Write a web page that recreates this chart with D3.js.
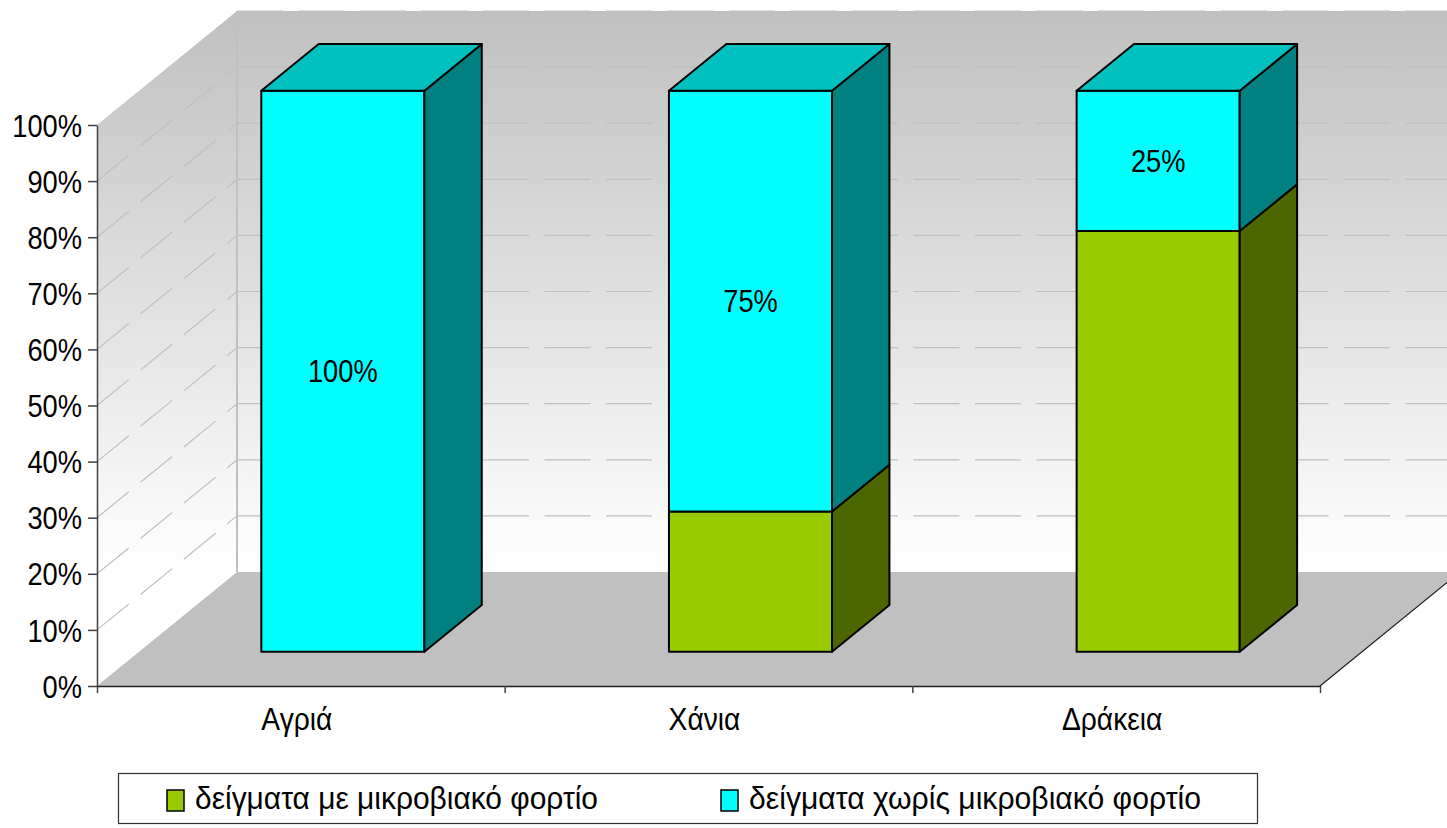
<!DOCTYPE html>
<html>
<head>
<meta charset="utf-8">
<script src="https://cdn.jsdelivr.net/npm/d3@7"></script>
<style>
    html, body { margin: 0; padding: 0; background: #fff; }
    svg { display: block; font-family: "Liberation Sans", Arial, sans-serif; }
</style>
</head>
<body>
<svg id="chart" width="1447" height="828"></svg>
<script>
// data
const categories = ['Αγριά', 'Χάνια', 'Δράκεια'];
const with_load = [0, 25, 75];
const without_load = [100, 75, 25];
const series_names = ['δείγματα με μικροβιακό φορτίο', 'δείγματα χωρίς μικροβιακό φορτίο'];
const y_ticks = [0, 10, 20, 30, 40, 50, 60, 70, 80, 90, 100];

// look
const front_colors = ['#99cc00', '#00ffff'];
const side_colors = ['#4c6600', '#008080'];
const top_colors = ['#7aa300', '#00c0c0'];

const font_size = 31;
const squash = 0.88;          // text in the picture is a bit narrow
const name_squash = 0.91;
const legend_widths = [403, 452];
const depth_x = 140, depth_y = 114;
const bar_z0 = 0.3, bar_z1 = 0.71;

const svg = d3.select('#chart');

const x = d3.scaleBand().domain(categories).range([97, 1320]).paddingInner(0.6).paddingOuter(0.3);
const edges = d3.scaleLinear().domain([0, categories.length]).range([97, 1320]);
const y = d3.scaleLinear().domain([0, 100]).range([686, 125]);

// project (screen x, value, depth 0..1) to a screen point
const P = (px, v, z) => [px + z * depth_x, y(v) - z * depth_y];
const poly = pts => pts.map(p => p.join(',')).join(' ');

const defs = svg.append('defs');
const grad = defs.append('linearGradient').attr('id', 'wall')
    .attr('gradientUnits', 'userSpaceOnUse')
    .attr('x1', 0).attr('y1', y(100) - depth_y).attr('x2', 0).attr('y2', y(0) - depth_y);
grad.append('stop').attr('offset', 0).attr('stop-color', '#c0c0c0');
grad.append('stop').attr('offset', 1).attr('stop-color', '#ffffff');

const x_left = edges.range()[0], x_right = edges.range()[1];

// walls and floor
svg.append('polygon').attr('fill', 'url(#wall)')
    .attr('points', poly([P(x_left, 0, 1), P(x_left, 100, 1), P(x_right, 100, 1), P(x_right, 0, 1)]));
svg.append('polygon').attr('fill', 'url(#wall)')
    .attr('points', poly([P(x_left, 0, 0), P(x_left, 100, 0), P(x_left, 100, 1), P(x_left, 0, 1)]));
svg.append('polygon').attr('fill', '#c0c0c0')
    .attr('points', poly([P(x_left, 0, 0), P(x_right, 0, 0), P(x_right, 0, 1), P(x_left, 0, 1)]));

// grid on the back wall and the side wall
const grid = svg.append('g').attr('stroke', '#c0c0c0').attr('stroke-width', 1.2).attr('fill', 'none');
grid.selectAll('line.back').data(y_ticks.filter(d => d > 0)).join('line').attr('class', 'back')
    .attr('x1', d => P(x_left, d, 1)[0]).attr('y1', d => P(x_left, d, 1)[1])
    .attr('x2', d => P(x_right, d, 1)[0]).attr('y2', d => P(x_right, d, 1)[1])
    .attr('stroke-dasharray', '46,15.5');
grid.selectAll('line.side').data(y_ticks.filter(d => d > 0 && d < 100)).join('line').attr('class', 'side')
    .attr('x1', d => P(x_left, d, 0)[0]).attr('y1', d => P(x_left, d, 0)[1])
    .attr('x2', d => P(x_left, d, 1)[0]).attr('y2', d => P(x_left, d, 1)[1])
    .attr('stroke-dasharray', '41,15');
grid.append('line')
    .attr('x1', P(x_left, 0, 1)[0]).attr('y1', P(x_left, 0, 1)[1])
    .attr('x2', P(x_left, 100, 1)[0]).attr('y2', P(x_left, 100, 1)[1])
    .attr('stroke-width', 2);

// right edge of the floor
svg.append('line').attr('stroke', '#202020').attr('stroke-width', 1.2)
    .attr('x1', P(x_right, 0, 0)[0]).attr('y1', P(x_right, 0, 0)[1])
    .attr('x2', P(x_right, 0, 1)[0]).attr('y2', P(x_right, 0, 1)[1]);

// stacked 3d bars
const stack = categories.map((c, i) => {
    const vals = [with_load[i], without_load[i]];
    let base = 0;
    return vals.map((v, s) => {
        const seg = {cat: c, s, v, v0: base, v1: base + v};
        base += v;
        return seg;
    }).filter(d => d.v > 0);
});

const bars = svg.append('g').attr('stroke', '#000').attr('stroke-width', 2).attr('stroke-linejoin', 'round');
stack.forEach(segs => {
    const g = bars.append('g');
    segs.forEach((d, k) => {
        const x0 = x(d.cat), x1 = x0 + x.bandwidth();
        g.append('polygon').attr('fill', front_colors[d.s])
            .attr('points', poly([P(x0, d.v0, bar_z0), P(x1, d.v0, bar_z0), P(x1, d.v1, bar_z0), P(x0, d.v1, bar_z0)]));
        g.append('polygon').attr('fill', side_colors[d.s])
            .attr('points', poly([P(x1, d.v0, bar_z0), P(x1, d.v0, bar_z1), P(x1, d.v1, bar_z1), P(x1, d.v1, bar_z0)]));
        if (k === segs.length - 1) {
            g.append('polygon').attr('fill', top_colors[d.s])
                .attr('points', poly([P(x0, d.v1, bar_z0), P(x1, d.v1, bar_z0), P(x1, d.v1, bar_z1), P(x0, d.v1, bar_z1)]));
        }
    });
});

// value labels, only on the cyan series
const labels = svg.append('g').attr('font-size', font_size).attr('fill', '#000').attr('text-anchor', 'middle');
stack.flat().filter(d => d.s === 1).forEach(d => {
    const cx = x(d.cat) + x.bandwidth() / 2 + bar_z0 * depth_x;
    const cy = (y(d.v0) + y(d.v1)) / 2 - bar_z0 * depth_y;
    labels.append('text')
        .attr('transform', `translate(${cx},${cy}) scale(${squash},1)`)
        .attr('dy', '0.36em')
        .text(d.v + '%');
});

// y axis
const y_axis = svg.append('g').attr('transform', `translate(${x_left},0)`)
    .call(d3.axisLeft(y).tickValues(y_ticks).tickFormat(d => d + '%').tickSize(9).tickSizeOuter(0).tickPadding(6));
y_axis.select('.domain').attr('stroke', '#404040').attr('stroke-width', 1.5);
y_axis.selectAll('.tick line').attr('stroke', '#404040').attr('stroke-width', 1.5);
y_axis.selectAll('.tick text')
    .attr('font-size', font_size).attr('font-family', null).attr('fill', '#000')
    .attr('x', -15 / squash).attr('dy', '0.36em')
    .attr('transform', `scale(${squash},1)`);

// x axis: boundary ticks and category names
const x_axis = svg.append('g').attr('transform', `translate(0,${y(0)})`)
    .call(d3.axisBottom(edges).tickValues(d3.range(categories.length + 1)).tickFormat('').tickSize(7).tickSizeOuter(0));
x_axis.select('.domain').attr('stroke', '#202020').attr('stroke-width', 1.5);
x_axis.selectAll('.tick line').attr('stroke', '#404040').attr('stroke-width', 1.5);

const x_names = svg.append('g').attr('transform', `translate(-4,${y(0)})`)
    .call(d3.axisBottom(x).tickSize(0).tickPadding(0));
x_names.select('.domain').remove();
x_names.selectAll('.tick text')
    .attr('font-size', font_size).attr('font-family', null).attr('fill', '#000')
    .attr('y', 0).attr('dy', 44)
    .attr('transform', `scale(${name_squash},1)`);

// legend
const legend = svg.append('g');
legend.append('rect').attr('x', 118.5).attr('y', 773.5).attr('width', 1139).attr('height', 50)
    .attr('fill', '#fff').attr('stroke', '#303030').attr('stroke-width', 1.2);
const legend_x = [167, 721];
series_names.forEach((name, i) => {
    legend.append('rect').attr('x', legend_x[i]).attr('y', 790).attr('width', 17).attr('height', 21)
        .attr('fill', front_colors[i]).attr('stroke', '#000').attr('stroke-width', 1.5);
    legend.append('text')
        .attr('x', legend_x[i] + 28).attr('y', 809)
        .attr('font-size', font_size).attr('fill', '#000')
        .attr('textLength', legend_widths[i]).attr('lengthAdjust', 'spacingAndGlyphs')
        .text(name);
});
</script>
</body>
</html>
